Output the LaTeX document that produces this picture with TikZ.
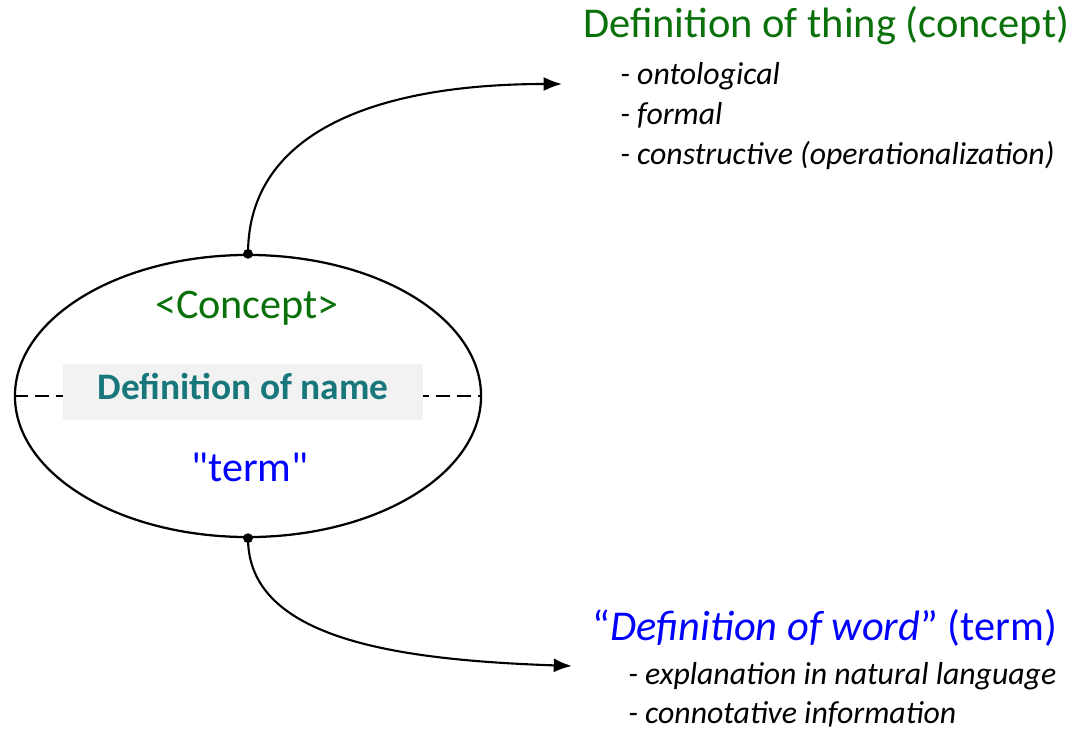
\documentclass[tikz,border=0pt]{standalone}
\usepackage{fontspec}
\setmainfont{Carlito}
\usetikzlibrary{shapes.geometric,arrows.meta}
\definecolor{thinggreen}{RGB}{10,112,10}
\definecolor{nameteal}{RGB}{23,119,123}
\definecolor{wordblue}{RGB}{0,0,255}
\definecolor{boxgray}{RGB}{242,242,242}
\begin{document}
\begin{tikzpicture}[x=0.025cm,y=-0.025cm,
    heading/.style={anchor=base west,inner sep=0,font=\fontsize{30.2}{36}\selectfont},
    item/.style={anchor=base west,inner sep=0,font=\fontsize{22.6}{26}\selectfont\itshape},
    inside/.style={anchor=base,inner sep=0,font=\fontsize{30}{34}\selectfont},
    link/.style={line width=1.5pt,-{Latex[length=13pt,width=10pt]}},
    joint/.style={circle,fill,inner sep=0,minimum size=7pt}]
    \useasboundingbox (0,0) rectangle (1076,730);
    % the concept ellipse
    \node[ellipse,draw,line width=1.6pt,minimum width=11.65cm,minimum height=7.05cm,inner sep=0] (concept) at (248,396) {};
    \draw[line width=1.2pt,dash pattern=on 10pt off 5pt] (concept.west) -- (concept.east);
    \node[fill=boxgray,minimum width=9cm,minimum height=1.4cm,inner sep=0] (namebox) at (243,392) {};
    \node[inside,text=thinggreen] (tag) at (247,318) {<Concept>};
    \node[anchor=base,inner sep=0,font=\bfseries\fontsize{26.6}{30}\selectfont,text=nameteal] (name) at (243,399) {Definition of name};
    \node[inside,text=wordblue] (term) at (250,481) {\textquotedbl term\textquotedbl};
    \node[joint] (top) at (concept.north) {};
    \node[joint] (bottom) at (concept.south) {};
    % definition of thing
    \node[heading,text=thinggreen] (thing) at (583,37) {Definition of thing (concept)};
    \node[item] (onto) at (620,84) {- ontological};
    \node[item] (formal) at (620,124) {- formal};
    \node[item] (constr) at (620,164) {- constructive (operationalization)};
    \coordinate (thingtip) at (562,84);
    \draw[link] (top.center) .. controls (248,130) and (380,84) .. (thingtip);
    % definition of word
    \node[heading,text=wordblue] (word) at (592,640) {“\textit{Definition of word}” (term)};
    \node[item] (expl) at (628,684) {- explanation in natural language};
    \node[item] (conn) at (628,723) {- connotative information};
    \coordinate (wordtip) at (572,666);
    \draw[link] (bottom.center) .. controls (248,640) and (400,660) .. (wordtip);
\end{tikzpicture}
\end{document}
